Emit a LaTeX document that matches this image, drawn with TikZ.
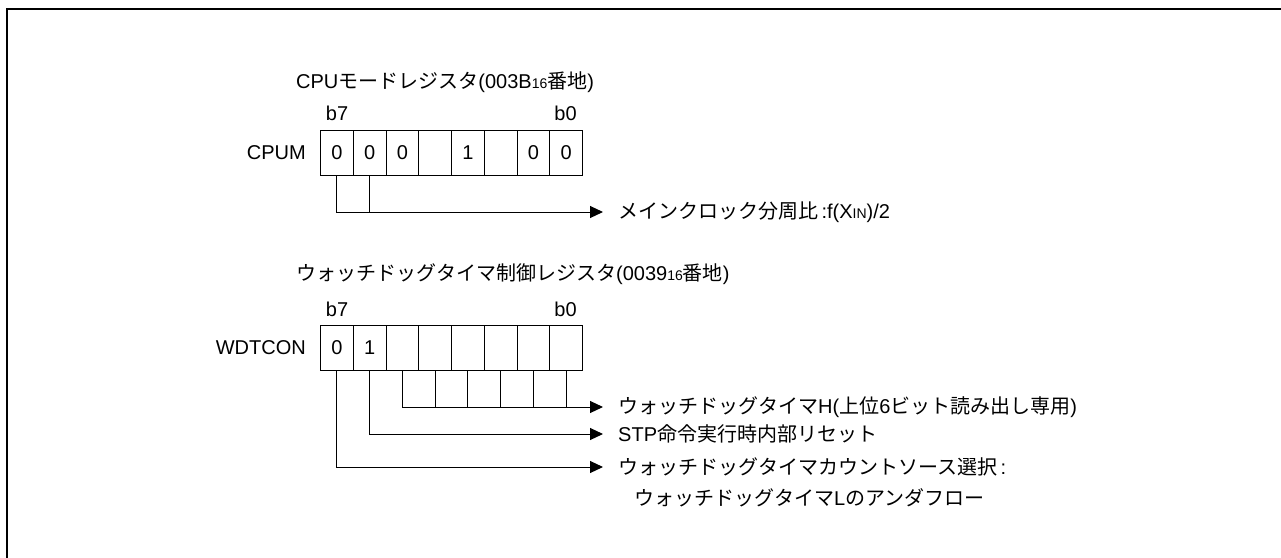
\documentclass[tikz,border=0pt]{standalone}
\usepackage{fontspec}
\setmainfont{Liberation Sans}
\newfontfamily\cjk{Noto Sans CJK JP}
\usetikzlibrary{arrows.meta}
\newcommand{\jp}[1]{{\cjk #1}}
\newcommand{\sm}[1]{{\fontsize{14pt}{14pt}\selectfont #1}}
\tikzset{
  txt/.style={inner sep=0pt, font=\fontsize{20pt}{24pt}\selectfont},
  cell/.style={draw, line width=1.2pt, minimum width=32.75pt, minimum height=45pt,
    inner sep=0pt, anchor=north west, font=\fontsize{20pt}{24pt}\selectfont},
  conn/.style={line width=1pt},
  arr/.style={conn, -{Triangle[length=13pt,width=12pt]}},
  frame/.style={line width=2pt}
}
\begin{document}
\begin{tikzpicture}[x=1pt,y=-1pt]
\useasboundingbox (0,0) rectangle (1281,557);
\draw[frame] (7,560) -- (7,9) -- (1284,9);

% CPU mode register
\node[txt, anchor=west] (t1) at (296,82) {CPU\jp{モードレジスタ}(003B\sm{16}\jp{番地})};
\node[txt] (t1b7) at (337,113) {b7};
\node[txt] (t1b0) at (565.6,113) {b0};
\node[txt, anchor=east] (l1) at (306,152.5) {CPUM};
\foreach \v [count=\i from 0] in {0,0,0,{},1,{},0,0}
  \node[cell] (c\i) at ({320+32.75*\i},130) {\v};
\coordinate (a1) at (603,212);
\node[txt, anchor=west] (m1) at (618,212) {\jp{メインクロック分周比}\,:f(X\sm{IN})/2};
\draw[arr] (c0.south) |- (a1);
\draw[conn] (c1.south) -- (c1.south |- a1);

% Watchdog timer control register
\node[txt, anchor=west] (t2) at (296,274) {\jp{ウォッチドッグタイマ制御レジスタ}(0039\sm{16}\jp{番地})};
\node[txt] (t2b7) at (337,309) {b7};
\node[txt] (t2b0) at (565.6,309) {b0};
\node[txt, anchor=east] (l2) at (306,348) {WDTCON};
\foreach \v [count=\i from 0] in {0,1,{},{},{},{},{},{}}
  \node[cell] (w\i) at ({320+32.75*\i},325) {\v};
\coordinate (a2) at (603,407);
\coordinate (a3) at (603,434);
\coordinate (a4) at (603,467);
\node[txt, anchor=west] (h1) at (618,407) {\jp{ウォッチドッグタイマ}H(\jp{上位}6\jp{ビット読み出し専用})};
\node[txt, anchor=west] (h2) at (618,434) {STP\jp{命令実行時内部リセット}};
\node[txt, anchor=west] (h3) at (618,467) {\jp{ウォッチドッグタイマカウントソース選択}\,:};
\node[txt, anchor=west] (h4) at (634,498) {\jp{ウォッチドッグタイマ}L\jp{のアンダフロー}};
\draw[arr] (w2.south) |- (a2);
\foreach \k in {3,...,7}
  \draw[conn] (w\k.south) -- (w\k.south |- a2);
\draw[arr] (w1.south) |- (a3);
\draw[arr] (w0.south) |- (a4);
\end{tikzpicture}
\end{document}
